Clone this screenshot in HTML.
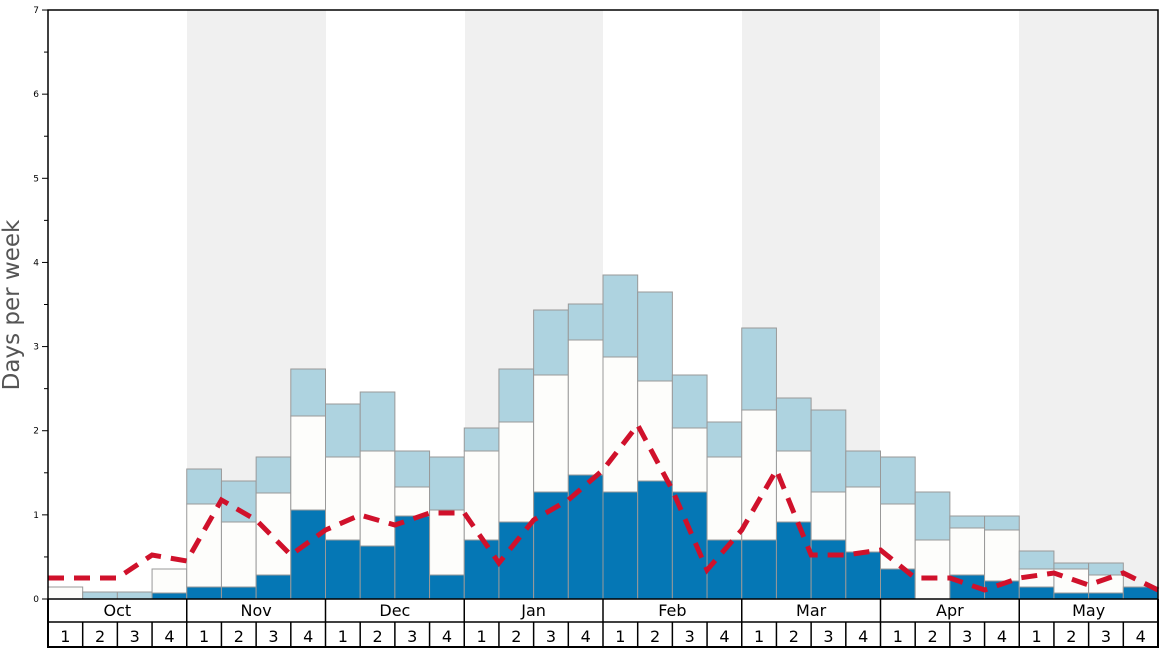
<!DOCTYPE html><html><head><style>body{margin:0;background:#fff}svg{display:block;font-family:"DejaVu Sans","Liberation Sans",sans-serif}</style></head><body>
<svg id="s" width="1168" height="648" xmlns="http://www.w3.org/2000/svg"></svg>
<script>
const s=document.getElementById('s');let h='';
const X0=48,X1=1158,W=(X1-X0)/32,Y0=599,U=84.14;
[[187,326],[465,603],[742,880],[1019,1158]].forEach(b=>h+=`<rect x="${b[0]}" y="10" width="${b[1]-b[0]}" height="589" fill="#f0f0f0"/>`);
const d=[[599,587,587],[599,599,592],[599,599,592],[593,569,569],[587,504,469],[587,522,481],[575,493,457],[510,416,369],[540,457,404],[546,451,392],[516,487,451],[575,510,457],[540,451,428],[522,422,369],[492,375,310],[475,340,304],[492,357,275],[481,381,292],[492,428,375],[540,457,422],[540,410,328],[522,451,398],[540,492,410],[552,487,451],[569,504,457],[599,540,492],[575,528,516],[581,530,516],[587,569,551],[593,569,563],[593,575,563],[587,587,587]];
d.forEach((v,i)=>{const x=X0+i*W;
if(v[2]<v[1])h+=`<rect x="${x}" y="${v[2]}" width="${W}" height="${v[1]-v[2]}" fill="#aed3e0" stroke="#999" stroke-width="1"/>`;
if(v[1]<v[0])h+=`<rect x="${x}" y="${v[1]}" width="${W}" height="${v[0]-v[1]}" fill="#fdfdfb" stroke="#999" stroke-width="1"/>`;
if(v[0]<599)h+=`<rect x="${x}" y="${v[0]}" width="${W}" height="${599-v[0]}" fill="#0577b5" stroke="#999" stroke-width="1"/>`;});
const r=[578,578,578,555,561,500,520,555,530,515,525,513,513,563,520,500,470,425,490,570,530,470,555,555,550,578,578,590,578,573,585,573,590];
h+=`<polyline points="${r.map((y,i)=>(X0+i*W)+','+y).join(' ')}" fill="none" stroke="#d0112b" stroke-width="5" stroke-dasharray="16,10"/>`;
for(let k=0;k<=14;k++){const y=Y0-k*U/2;h+=`<line x1="${k%2?44:42}" y1="${y}" x2="48" y2="${y}" stroke="#000"/>`;if(k%2==0)h+=`<text x="39" y="${y+3}" font-size="9" text-anchor="end">${k/2}</text>`;}
h+=`<text transform="translate(19,305) rotate(-90)" font-size="23" fill="#555" text-anchor="middle">Days per week</text>`;
h+=`<rect x="48" y="10" width="1110" height="589" fill="none" stroke="#000" stroke-width="1.5"/>`;
h+=`<line x1="48" y1="622" x2="1158" y2="622" stroke="#000" stroke-width="1.5"/><line x1="48" y1="647" x2="1158" y2="647" stroke="#000" stroke-width="2"/>`;
h+=`<line x1="48" y1="599" x2="48" y2="648" stroke="#000" stroke-width="2"/><line x1="1158" y1="599" x2="1158" y2="648" stroke="#000" stroke-width="2"/>`;
const m=['Oct','Nov','Dec','Jan','Feb','Mar','Apr','May'];
m.forEach((n,j)=>{const x=X0+j*4*W;if(j>0)h+=`<line x1="${x}" y1="599" x2="${x}" y2="647" stroke="#000" stroke-width="1.5"/>`;h+=`<text x="${x+2*W}" y="616" font-size="16" text-anchor="middle">${n}</text>`;
for(let w=0;w<4;w++){const xx=x+w*W;if(w>0)h+=`<line x1="${xx}" y1="622" x2="${xx}" y2="647" stroke="#000" stroke-width="1.5"/>`;h+=`<text x="${xx+W/2}" y="642" font-size="16" text-anchor="middle">${w+1}</text>`;}});
s.innerHTML=h;
</script></body></html>
